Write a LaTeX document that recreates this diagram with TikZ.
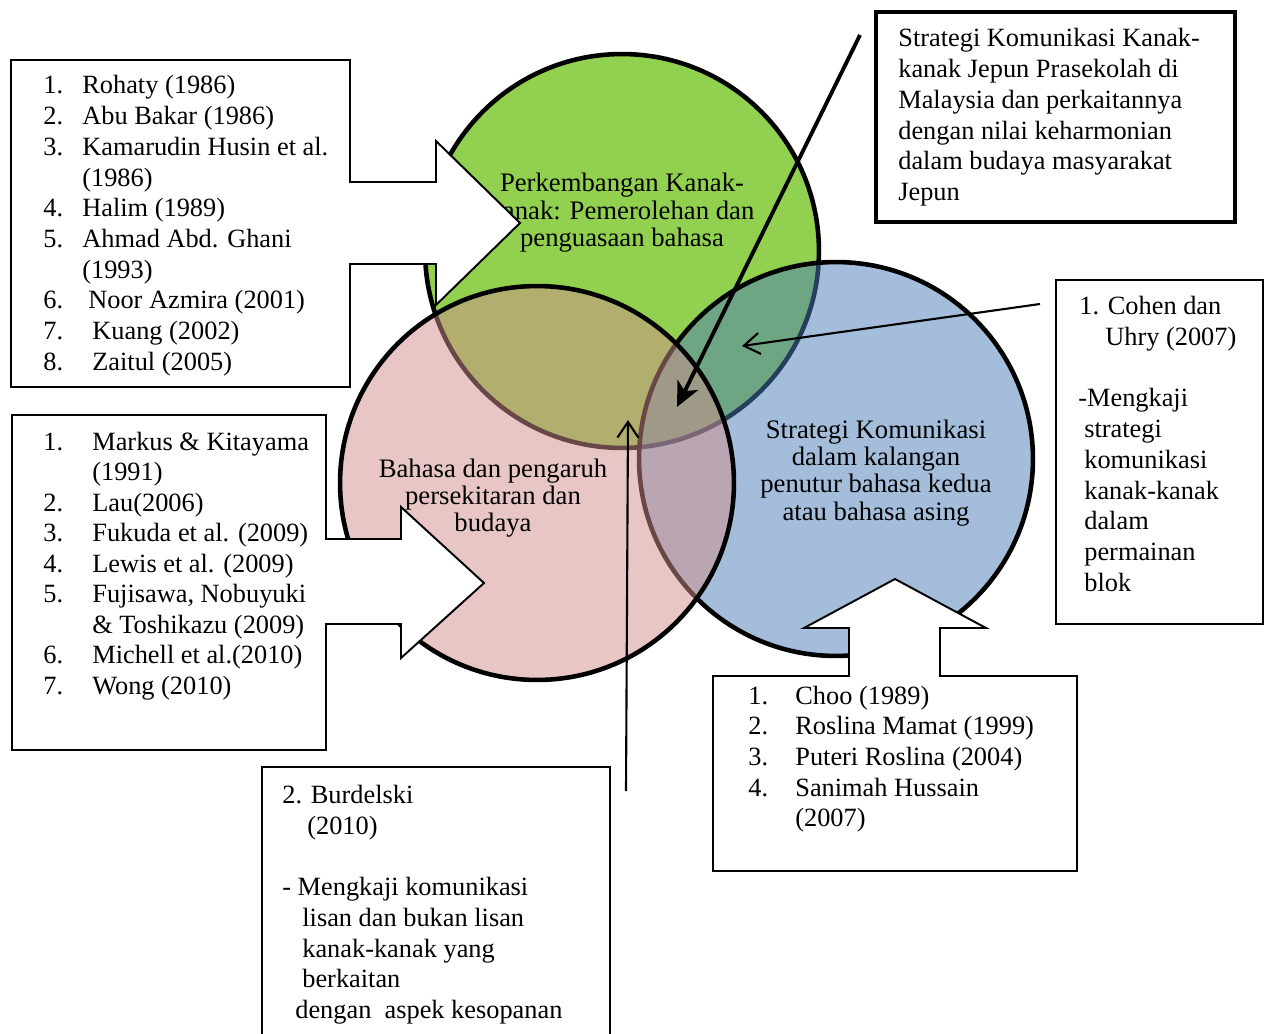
\documentclass[tikz,border=0pt]{standalone}
\usepackage{fontspec}
\setmainfont{Liberation Serif}
\usetikzlibrary{arrows.meta}
\definecolor{cgreen}{RGB}{146,208,80}
\definecolor{cpink}{RGB}{208,142,140}
\definecolor{cblue}{RGB}{75,125,185}
\begin{document}
\begin{tikzpicture}[x=0.02cm,y=-0.02cm,
  lt/.style={anchor=base west, inner sep=0pt, font=\fontsize{15}{17.4}\selectfont},
  ct/.style={anchor=base, inner sep=0pt, font=\fontsize{15.2}{15.5}\selectfont},
  venn/.style={draw=black, line width=2.6pt},
  callout/.style={draw=black, fill=white, line width=1.1pt, line join=miter},
  plainbox/.style={draw=black, fill=white, line join=miter},
  thinarrow/.style={line width=1.2pt, -{Straight Barb[length=9pt,width=12pt]}},
  thickarrow/.style={line width=2.2pt, -{Stealth[length=14pt,width=13pt,inset=4pt]}}]
\clip (0,0) rectangle (1272,1034);
\fill[white] (0,0) rectangle (1272,1034);
% circles
\path[venn, fill=cgreen] (622,251) circle[radius=3.94cm];
\path[venn, fill=cblue, fill opacity=0.5] (836,459) circle[radius=3.94cm];
\path[venn, fill=cpink, fill opacity=0.5] (537,483) circle[radius=3.94cm];
% circle texts
\node[ct] (g1) at (622,192) {Perkembangan Kanak-};
\node[ct] (g2) at (622,219) {kanak: Pemerolehan dan};
\node[ct] (g3) at (622,246) {penguasaan bahasa};
\node[ct] (p1) at (493,477) {Bahasa dan pengaruh};
\node[ct] (p2) at (493,504) {persekitaran dan};
\node[ct] (p3) at (493,531) {budaya};
\node[ct] (b1) at (876,438) {Strategi Komunikasi};
\node[ct] (b2) at (876,465) {dalam kalangan};
\node[ct] (b3) at (876,492) {penutur bahasa kedua};
\node[ct] (b4) at (876,520) {atau bahasa asing};
% callout boxes
\path[callout] (11,60) -- (350,60) -- (350,182) -- (436,182) -- (436,141) -- (520,223) -- (436,305) -- (436,264) -- (350,264) -- (350,387) -- (11,387) -- cycle;
\path[callout] (12,415) -- (326,415) -- (326,539) -- (401,539) -- (401,507) -- (484,583) -- (401,658) -- (401,624) -- (326,624) -- (326,750) -- (12,750) -- cycle;
\path[callout] (713,676) -- (849,676) -- (849,628) -- (804,628) -- (895,579) -- (986,628) -- (940,628) -- (940,676) -- (1077,676) -- (1077,871) -- (713,871) -- cycle;
\path[plainbox, line width=1.9pt] (876,12) rectangle (1235,222);
\path[plainbox, line width=1.5pt] (1056,280) rectangle (1263,624);
\path[plainbox, line width=1.3pt] (262,1045) -- (262,767) -- (610,767) -- (610,1045);
% TL list
\node[lt] (tl1n) at (43,94) {1.};   \node[lt] (tl1) at (82,94) {Rohaty (1986)};
\node[lt] (tl2n) at (43,124.7) {2.}; \node[lt] (tl2) at (82,124.7) {Abu Bakar (1986)};
\node[lt] (tl3n) at (43,155.4) {3.}; \node[lt] (tl3) at (82,155.4) {Kamarudin Husin et al.};
\node[lt] (tl3b) at (82,186.1) {(1986)};
\node[lt] (tl4n) at (43,216.8) {4.}; \node[lt] (tl4) at (82,216.8) {Halim (1989)};
\node[lt] (tl5n) at (43,247.5) {5.}; \node[lt] (tl5) at (82,247.5) {Ahmad Abd. Ghani};
\node[lt] (tl5b) at (82,278.2) {(1993)};
\node[lt] (tl6n) at (43,308.9) {6.}; \node[lt] (tl6) at (88,308.9) {Noor Azmira (2001)};
\node[lt] (tl7n) at (43,339.6) {7.}; \node[lt] (tl7) at (92,339.6) {Kuang (2002)};
\node[lt] (tl8n) at (43,370.3) {8.}; \node[lt] (tl8) at (92,370.3) {Zaitul (2005)};
% BL list
\node[lt] (bl1n) at (43,450) {1.};   \node[lt] (bl1) at (92,450) {Markus \& Kitayama};
\node[lt] (bl1b) at (92,480.5) {(1991)};
\node[lt] (bl2n) at (43,511) {2.};   \node[lt] (bl2) at (92,511) {Lau(2006)};
\node[lt] (bl3n) at (43,541.5) {3.}; \node[lt] (bl3) at (92,541.5) {Fukuda et al. (2009)};
\node[lt] (bl4n) at (43,572) {4.};   \node[lt] (bl4) at (92,572) {Lewis et al. (2009)};
\node[lt] (bl5n) at (43,602.5) {5.}; \node[lt] (bl5) at (92,602.5) {Fujisawa, Nobuyuki};
\node[lt] (bl5b) at (92,633) {\& Toshikazu (2009)};
\node[lt] (bl6n) at (43,663.5) {6.}; \node[lt] (bl6) at (92,663.5) {Michell et al.(2010)};
\node[lt] (bl7n) at (43,694) {7.};   \node[lt] (bl7) at (92,694) {Wong (2010)};
% BR list
\node[lt] (br1n) at (748,704) {1.};   \node[lt] (br1) at (795,704) {Choo (1989)};
\node[lt] (br2n) at (748,734.7) {2.}; \node[lt] (br2) at (795,734.7) {Roslina Mamat (1999)};
\node[lt] (br3n) at (748,765.4) {3.}; \node[lt] (br3) at (795,765.4) {Puteri Roslina (2004)};
\node[lt] (br4n) at (748,796.1) {4.}; \node[lt] (br4) at (795,796.1) {Sanimah Hussain};
\node[lt] (br4b) at (795,826.8) {(2007)};
% TR box
\node[lt] (tr1) at (898,47) {Strategi Komunikasi Kanak-};
\node[lt] (tr2) at (898,77.7) {kanak Jepun Prasekolah di};
\node[lt] (tr3) at (898,108.4) {Malaysia dan perkaitannya};
\node[lt] (tr4) at (898,139.1) {dengan nilai keharmonian};
\node[lt] (tr5) at (898,169.8) {dalam budaya masyarakat};
\node[lt] (tr6) at (898,200.5) {Jepun};
% Cohen box
\node[lt] (c1) at (1079,314) {1. Cohen dan};
\node[lt] (c2) at (1105,345) {Uhry (2007)};
\node[lt] (c3) at (1078,406) {-Mengkaji};
\node[lt] (c4) at (1084,437) {strategi};
\node[lt] (c5) at (1084,468) {komunikasi};
\node[lt] (c6) at (1084,499) {kanak-kanak};
\node[lt] (c7) at (1084,529.5) {dalam};
\node[lt] (c8) at (1084,560) {permainan};
\node[lt] (c9) at (1084,591) {blok};
% Burdelski box
\node[lt] (d1) at (282,803) {2. Burdelski};
\node[lt] (d2) at (307,834) {(2010)};
\node[lt] (d3) at (282,895) {- Mengkaji komunikasi};
\node[lt] (d4) at (302,926) {lisan dan bukan lisan};
\node[lt] (d5) at (302,957) {kanak-kanak yang};
\node[lt] (d6) at (302,987.5) {berkaitan};
\node[lt] (d7) at (295,1018.5) {dengan\ \ aspek kesopanan};
% arrows
\coordinate (a1s) at (860,35);
\coordinate (a1e) at (677,407);
\coordinate (a2s) at (1040,304);
\coordinate (a2e) at (742,346);
\coordinate (a3s) at (626,791);
\coordinate (a3e) at (628,420);
\draw[thickarrow] (a1s) -- (a1e);
\draw[thinarrow] (a2s) -- (a2e);
\draw[thinarrow] (a3s) -- (a3e);
\end{tikzpicture}
\end{document}
